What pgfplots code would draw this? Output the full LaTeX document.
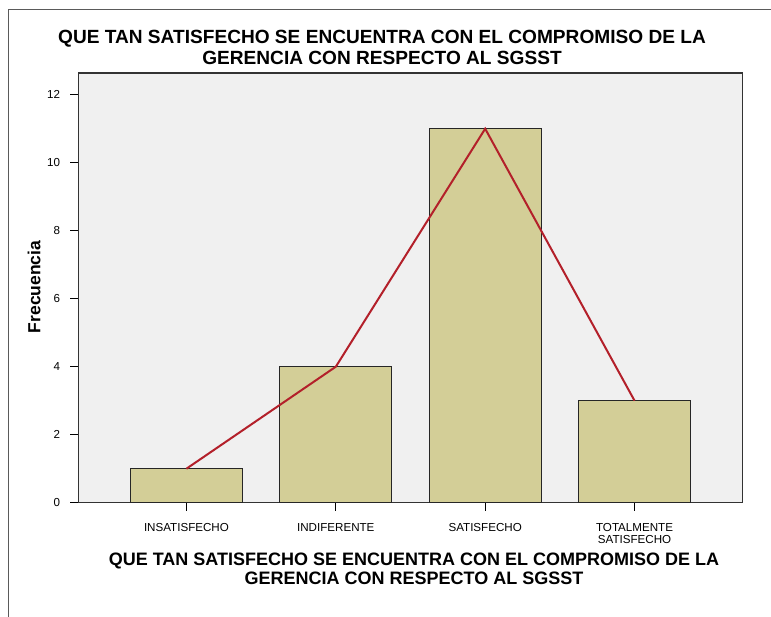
\documentclass[border=0pt]{standalone}
\usepackage{fontspec}
\setmainfont{Liberation Sans}
\usepackage{pgfplots}
\pgfplotsset{compat=1.18}
\definecolor{barfill}{HTML}{D3CE97}
\definecolor{linered}{HTML}{B3202A}
\definecolor{plotbg}{HTML}{F0F0F0}
\definecolor{framegray}{HTML}{5A5A5A}

\begin{document}
\begin{tikzpicture}[x=1pt,y=1pt]
\useasboundingbox (0,0) rectangle (771,617);
% outer frame (only top and left edges are visible)
\draw[framegray, line width=1.5pt] (8.5,0) -- (8.5,607.5) -- (771,607.5);
\begin{axis}[
  at={(78.3pt,114.3pt)}, anchor=south west,
  scale only axis, width=664.4pt, height=429.7pt,
  xmin=-0.724, xmax=3.724, ymin=0, ymax=12.64,
  axis background/.style={fill=plotbg},
  axis line style={black!80, line width=1.3pt},
  xtick={0,1,2,3},
  xticklabels={INSATISFECHO,INDIFERENTE,SATISFECHO,{TOTALMENTE\\SATISFECHO}},
  ytick={0,2,...,12},
  tick align=outside, xtick pos=bottom, ytick pos=left,
  major tick length=8pt,
  tick style={black, line width=0.9pt},
  ticklabel style={font=\fontsize{11.6}{12.4}\selectfont},
  xticklabel style={align=center, anchor=north, inner sep=0pt, yshift=-12.3pt},
  yticklabel style={anchor=east, inner sep=0pt, xshift=-10pt},
  /pgf/number format/assume math mode=true,
]
\addplot[ybar, bar width=0.75, fill=barfill, draw=black!85, line width=1.2pt]
  coordinates {(0,1) (1,4) (2,11) (3,3)};
\addplot[sharp plot, mark=none, linered, line width=2pt]
  coordinates {(0,1) (1,4) (2,11) (3,3)};
\end{axis}
\begin{scope}[font=\fontsize{19.1}{21}\selectfont\bfseries]
\node[anchor=base, inner sep=0pt] at (382,573) {QUE TAN SATISFECHO SE ENCUENTRA CON EL COMPROMISO DE LA};
\node[anchor=base, inner sep=0pt] at (382,552) {GERENCIA CON RESPECTO AL SGSST};
\end{scope}
\begin{scope}[font=\fontsize{18}{19.3}\selectfont\bfseries]
\node[anchor=base, inner sep=0pt] at (414,51.3) {QUE TAN SATISFECHO SE ENCUENTRA CON EL COMPROMISO DE LA};
\node[anchor=base, inner sep=0pt] at (414,32) {GERENCIA CON RESPECTO AL SGSST};
\end{scope}
\node[rotate=90, inner sep=0pt, font=\fontsize{17.5}{19}\selectfont\bfseries] at (34,330) {Frecuencia};
\end{tikzpicture}
\end{document}
